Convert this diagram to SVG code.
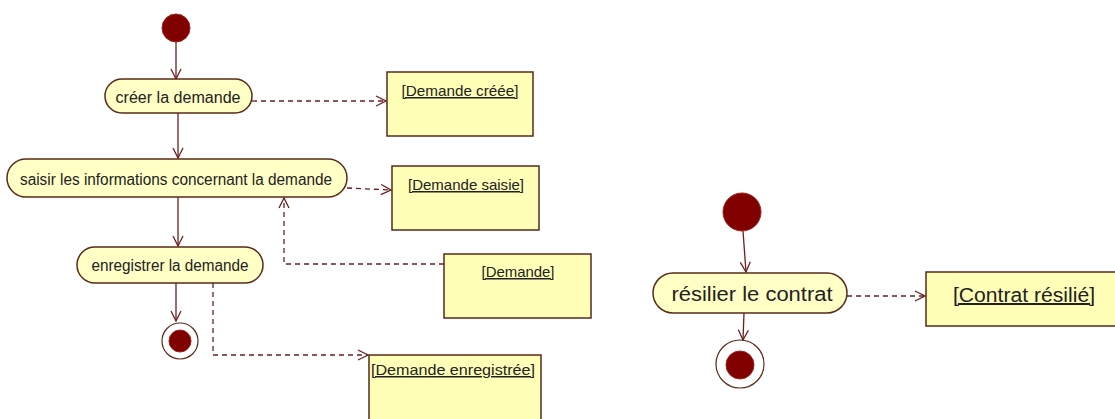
<svg xmlns="http://www.w3.org/2000/svg" width="1115" height="419" viewBox="0 0 1115 419">
<defs>
<marker id="arr" viewBox="0 0 12 12" refX="11" refY="6" markerWidth="12" markerHeight="12" markerUnits="userSpaceOnUse" orient="auto">
<path d="M1,1 L11,6 L1,11" fill="none" stroke="#6b1f1f" stroke-width="1.3"/>
</marker>
</defs>
<style>
.act{fill:#ffffc6;stroke:#5a2a1a;stroke-width:1.5}
.obj{fill:#ffffb8;stroke:#5a2a1a;stroke-width:1.5}
.ini{fill:#800000;stroke:#a02020;stroke-width:1}
.fin{fill:none;stroke:#5a2a1a;stroke-width:1.2}
.t{font-family:"Liberation Sans",Arial,sans-serif;font-size:16px;fill:#222;text-anchor:middle}
.u{font-family:"Liberation Sans",Arial,sans-serif;font-size:15px;fill:#222;text-anchor:middle;text-decoration:underline}
.big{font-size:20px}
.flow{fill:none;stroke:#6b1f1f;stroke-width:1.3;marker-end:url(#arr)}
.dep{fill:none;stroke:#6b1f1f;stroke-width:1.3;stroke-dasharray:5,4;marker-end:url(#arr)}
</style>
<rect width="1115" height="419" fill="#ffffff"/>
<g id="connectors">
<path class="flow" d="M176,42 L176,79"/>
<path class="flow" d="M178,113 L178,158"/>
<path class="flow" d="M178,197 L178,246"/>
<path class="flow" d="M176,283 L176,321"/>
<path class="dep" d="M252,101 L386,101"/>
<path class="dep" d="M347,188 L391,190"/>
<path class="dep" d="M444,264 L284,264 L284,198"/>
<path class="dep" d="M213,283 L213,355 L368,355"/>
<path class="flow" d="M743,231 L746,272"/>
<path class="flow" d="M744,313 L743,340"/>
<path class="dep" d="M847,296 L925,296"/>
</g>
<g id="start1"><ellipse class="ini" cx="176" cy="28" rx="14" ry="14"/></g>
<g id="creer"><rect class="act" x="105" y="79" width="147" height="34" rx="17"/><text class="t" x="178" y="103" textLength="125" lengthAdjust="spacingAndGlyphs">créer la demande</text></g>
<g id="saisir"><rect class="act" x="7" y="159" width="340" height="38" rx="19"/><text class="t" x="176" y="185" textLength="312" lengthAdjust="spacingAndGlyphs">saisir les informations concernant la demande</text></g>
<g id="enregistrer"><rect class="act" x="77" y="247" width="186" height="36" rx="18"/><text class="t" x="170" y="271" textLength="157" lengthAdjust="spacingAndGlyphs">enregistrer la demande</text></g>
<g id="end1"><circle class="fin" cx="180" cy="341" r="18"/><circle class="ini" cx="180" cy="341" r="11"/></g>
<g id="obj-creee"><rect class="obj" x="387" y="72" width="146" height="64"/><text class="u" x="460" y="96" textLength="117" lengthAdjust="spacingAndGlyphs">[Demande créée]</text></g>
<g id="obj-saisie"><rect class="obj" x="392" y="166" width="147" height="64"/><text class="u" x="466" y="190" textLength="116" lengthAdjust="spacingAndGlyphs">[Demande saisie]</text></g>
<g id="obj-demande"><rect class="obj" x="444" y="254" width="147" height="64"/><text class="u" x="518" y="277" textLength="73" lengthAdjust="spacingAndGlyphs">[Demande]</text></g>
<g id="obj-enregistree"><rect class="obj" x="369" y="355" width="172" height="66"/><text class="u" x="453" y="375" textLength="164" lengthAdjust="spacingAndGlyphs">[Demande enregistrée]</text></g>
<g id="start2"><circle class="ini" cx="742" cy="212" r="19"/></g>
<g id="resilier"><rect class="act" x="653" y="273" width="194" height="40" rx="20"/><text class="t big" x="752" y="301" textLength="161" lengthAdjust="spacingAndGlyphs">résilier le contrat</text></g>
<g id="end2"><circle class="fin" cx="740" cy="364" r="24"/><circle class="ini" cx="740" cy="365" r="14"/></g>
<g id="obj-contrat"><rect class="obj" x="926" y="272" width="192" height="54"/><text class="u big" x="1024" y="302" textLength="142" lengthAdjust="spacingAndGlyphs">[Contrat résilié]</text></g>
</svg>
